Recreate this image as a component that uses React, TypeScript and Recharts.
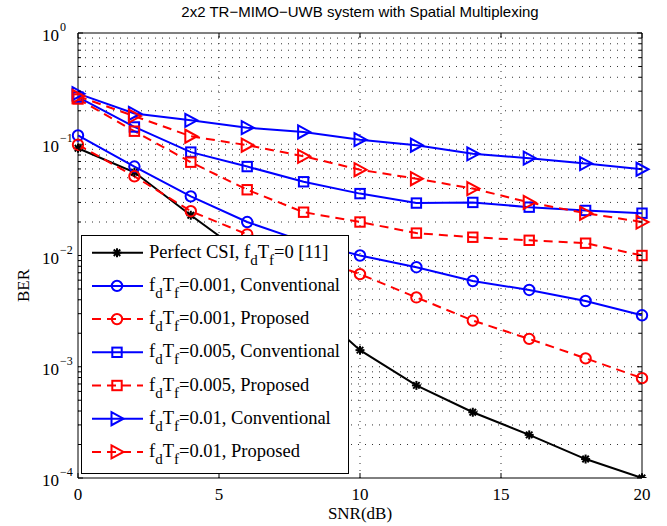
import React from 'react';
import { LineChart, Line, XAxis, YAxis, ReferenceLine, ReferenceArea } from 'recharts';

const snr = [0, 2, 4, 6, 8, 10, 12, 14, 16, 18, 20];

const perfectCsi = [0.092, 0.056, 0.023, 0.0098, 0.004, 0.00141, 0.00068, 0.00039, 0.000244, 0.000148, 0.0001];
const conv001 = [0.12, 0.063, 0.034, 0.02, 0.0134, 0.01, 0.00785, 0.0059, 0.0049, 0.0039, 0.0029];
const prop001 = [0.099, 0.0515, 0.025, 0.0155, 0.0103, 0.0068, 0.0042, 0.0026, 0.00178, 0.00119, 0.00079];
const conv005 = [0.265, 0.143, 0.085, 0.063, 0.046, 0.036, 0.0296, 0.03, 0.0272, 0.0254, 0.024];
const prop005 = [0.255, 0.131, 0.069, 0.039, 0.0245, 0.02, 0.0159, 0.0146, 0.0137, 0.0129, 0.01];
const conv01 = [0.285, 0.189, 0.164, 0.141, 0.129, 0.11, 0.098, 0.082, 0.075, 0.067, 0.0596];
const prop01 = [0.27, 0.179, 0.118, 0.098, 0.078, 0.059, 0.049, 0.04, 0.03, 0.024, 0.02];

const xTicks = [0, 5, 10, 15, 20];
const yTicks = [1e-4, 1e-3, 1e-2, 1e-1, 1];
const yExponents = ['−4', '−3', '−2', '−1', '0'];

const title = '2x2 TR−MIMO−UWB system with Spatial Multiplexing';

// minor log grid: 2..9 inside every decade
const minorY: number[] = [];
yTicks.slice(0, -1).forEach((d) => {
    for (let k = 2; k <= 9; k++) minorY.push(d * k);
});
const allY = [...yTicks, ...minorY].sort((a, b) => a - b);

type MarkerKind = 'star' | 'circle' | 'square' | 'tri';

const series = [
    { key: 'perfect', values: perfectCsi, color: '#000000', dashed: false, marker: 'star' as MarkerKind, fd: '0 [11]', pre: 'Perfect CSI, ' },
    { key: 'conv001', values: conv001, color: '#0000ff', dashed: false, marker: 'circle' as MarkerKind, fd: '0.001, Conventional', pre: '' },
    { key: 'prop001', values: prop001, color: '#ff0000', dashed: true, marker: 'circle' as MarkerKind, fd: '0.001, Proposed', pre: '' },
    { key: 'conv005', values: conv005, color: '#0000ff', dashed: false, marker: 'square' as MarkerKind, fd: '0.005, Conventional', pre: '' },
    { key: 'prop005', values: prop005, color: '#ff0000', dashed: true, marker: 'square' as MarkerKind, fd: '0.005, Proposed', pre: '' },
    { key: 'conv01', values: conv01, color: '#0000ff', dashed: false, marker: 'tri' as MarkerKind, fd: '0.01, Conventional', pre: '' },
    { key: 'prop01', values: prop01, color: '#ff0000', dashed: true, marker: 'tri' as MarkerKind, fd: '0.01, Proposed', pre: '' },
];

const data = snr.map((s, i) => {
    const row: Record<string, number> = { snr: s };
    series.forEach((sr) => {
        row[sr.key] = sr.values[i];
    });
    return row;
});

const PLOT_LEFT = 78;
const PLOT_RIGHT = 642;
const PLOT_TOP = 33;
const PLOT_BOTTOM = 478;
const DASH = '9 6';
const GRID_DASH = '1 6';
const SERIF = '"Liberation Serif", "Times New Roman", serif';

const Marker = ({ kind, cx, cy, color }: { kind: MarkerKind; cx: number; cy: number; color: string }) => {
    if (kind === 'star') {
        const r = 4.5;
        const d = r * 0.72;
        return (
            <g stroke={color} strokeWidth={2}>
                <line x1={cx - r} y1={cy} x2={cx + r} y2={cy} />
                <line x1={cx} y1={cy - r} x2={cx} y2={cy + r} />
                <line x1={cx - d} y1={cy - d} x2={cx + d} y2={cy + d} />
                <line x1={cx - d} y1={cy + d} x2={cx + d} y2={cy - d} />
            </g>
        );
    }
    if (kind === 'circle') {
        return <circle cx={cx} cy={cy} r={5.2} fill="none" stroke={color} strokeWidth={2} />;
    }
    if (kind === 'square') {
        return <rect x={cx - 4.7} y={cy - 4.7} width={9.4} height={9.4} fill="none" stroke={color} strokeWidth={2} />;
    }
    return (
        <polygon
            points={`${cx - 5.5},${cy - 6.5} ${cx + 6.5},${cy} ${cx - 5.5},${cy + 6.5}`}
            fill="none"
            stroke={color}
            strokeWidth={2}
            strokeLinejoin="miter"
        />
    );
};

const YTick = (props: any) => {
    const { y, payload } = props;
    const v = payload.value;
    const idx = yTicks.findIndex((t) => Math.abs(t - v) / t < 1e-6);
    const len = idx >= 0 ? 5 : 3;
    return (
        <g>
            <line x1={PLOT_LEFT} y1={y} x2={PLOT_LEFT + len} y2={y} stroke="#000" />
            <line x1={PLOT_RIGHT - len} y1={y} x2={PLOT_RIGHT} y2={y} stroke="#000" />
            {idx >= 0 && (
                <text x={PLOT_LEFT - 36} y={y + 8} fontFamily={SERIF} fontSize={17} fill="#000">
                    10
                    <tspan fontSize={12} dx={1} dy={-10}>
                        {yExponents[idx]}
                    </tspan>
                </text>
            )}
        </g>
    );
};

const XTick = (props: any) => {
    const { x, payload } = props;
    return (
        <g>
            <line x1={x} y1={PLOT_BOTTOM} x2={x} y2={PLOT_BOTTOM - 5} stroke="#000" />
            <line x1={x} y1={PLOT_TOP} x2={x} y2={PLOT_TOP + 5} stroke="#000" />
            <text x={x} y={PLOT_BOTTOM + 22} textAnchor="middle" fontFamily={SERIF} fontSize={17} fill="#000">
                {payload.value}
            </text>
        </g>
    );
};

const LegendBox = () => {
    const rowH = 33.2;
    return (
        <svg
            width={268}
            height={240}
            style={{ position: 'absolute', left: 81, top: 235 }}
        >
            <rect x={0.5} y={0.5} width={267} height={238} fill="#fff" stroke="#000" />
            {series.map((s, i) => {
                const cy = 17.7 + i * rowH;
                return (
                    <g key={s.key}>
                        <line
                            x1={11}
                            y1={cy}
                            x2={62}
                            y2={cy}
                            stroke={s.color}
                            strokeWidth={2}
                            strokeDasharray={s.dashed ? '9 6' : undefined}
                        />
                        <Marker kind={s.marker} cx={36} cy={cy} color={s.color} />
                        <text x={68} y={cy + 5} fontFamily={SERIF} fontSize={18.5} fill="#000">
                            {s.pre}f
                            <tspan fontSize={15} dy={7}>d</tspan>
                            <tspan dy={-7}>T</tspan>
                            <tspan fontSize={15} dy={7}>f</tspan>
                            <tspan dy={-7}>={s.fd}</tspan>
                        </text>
                    </g>
                );
            })}
        </svg>
    );
};

export default function App() {
    return (
        <div style={{ position: 'absolute', left: 0, top: 0, width: 667, height: 526, background: '#fff' }}>
            <div
                style={{
                    position: 'absolute',
                    left: PLOT_LEFT,
                    width: PLOT_RIGHT - PLOT_LEFT,
                    top: 3,
                    textAlign: 'center',
                    fontFamily: '"Liberation Sans", Arial, sans-serif',
                    fontSize: 15,
                    color: '#000',
                }}
            >
                {title}
            </div>
            <LineChart width={667} height={526} data={data} margin={{ top: 33, right: 25, bottom: 0, left: 0 }}>
                {minorY.concat(yTicks.slice(1, -1)).map((v) => (
                    <ReferenceLine key={`h${v}`} y={v} stroke="#333" strokeDasharray={GRID_DASH} />
                ))}
                {xTicks.slice(1, -1).map((v) => (
                    <ReferenceLine key={`v${v}`} x={v} stroke="#333" strokeDasharray={GRID_DASH} />
                ))}
                <ReferenceArea x1={0} x2={20} y1={1e-4} y2={1} fill="none" stroke="#000" strokeWidth={1} />
                <XAxis
                    dataKey="snr"
                    type="number"
                    domain={[0, 20]}
                    ticks={xTicks}
                    interval={0}
                    height={48}
                    axisLine={false}
                    tickLine={false}
                    tickSize={0}
                    tickMargin={0}
                    tick={<XTick />}
                    label={{ value: 'SNR(dB)', position: 'insideBottom', offset: 7, fontFamily: SERIF, fontSize: 17, fill: '#000' }}
                />
                <YAxis
                    scale="log"
                    domain={[1e-4, 1]}
                    allowDataOverflow
                    ticks={allY}
                    interval={0}
                    width={78}
                    axisLine={false}
                    tickLine={false}
                    tickSize={0}
                    tickMargin={0}
                    tick={<YTick />}
                    label={{
                        content: (p: any) => {
                            const vb = p.viewBox;
                            const cx = 23;
                            const cy = vb.y + vb.height / 2 + 30;
                            return (
                                <text
                                    x={cx}
                                    y={cy}
                                    transform={`rotate(-90 ${cx} ${cy})`}
                                    textAnchor="middle"
                                    dominantBaseline="central"
                                    fontFamily={SERIF}
                                    fontSize={17}
                                    fill="#000"
                                >
                                    BER
                                </text>
                            );
                        },
                    }}
                />
                {series.map((s) => (
                    <Line
                        key={s.key}
                        dataKey={s.key}
                        type="linear"
                        stroke={s.color}
                        strokeWidth={2}
                        strokeDasharray={s.dashed ? DASH : undefined}
                        isAnimationActive={false}
                        activeDot={false}
                        dot={(p: any) => (
                            <Marker key={`${s.key}-${p.index}`} kind={s.marker} cx={p.cx} cy={p.cy} color={s.color} />
                        )}
                    />
                ))}
            </LineChart>
            <LegendBox />
        </div>
    );
}
